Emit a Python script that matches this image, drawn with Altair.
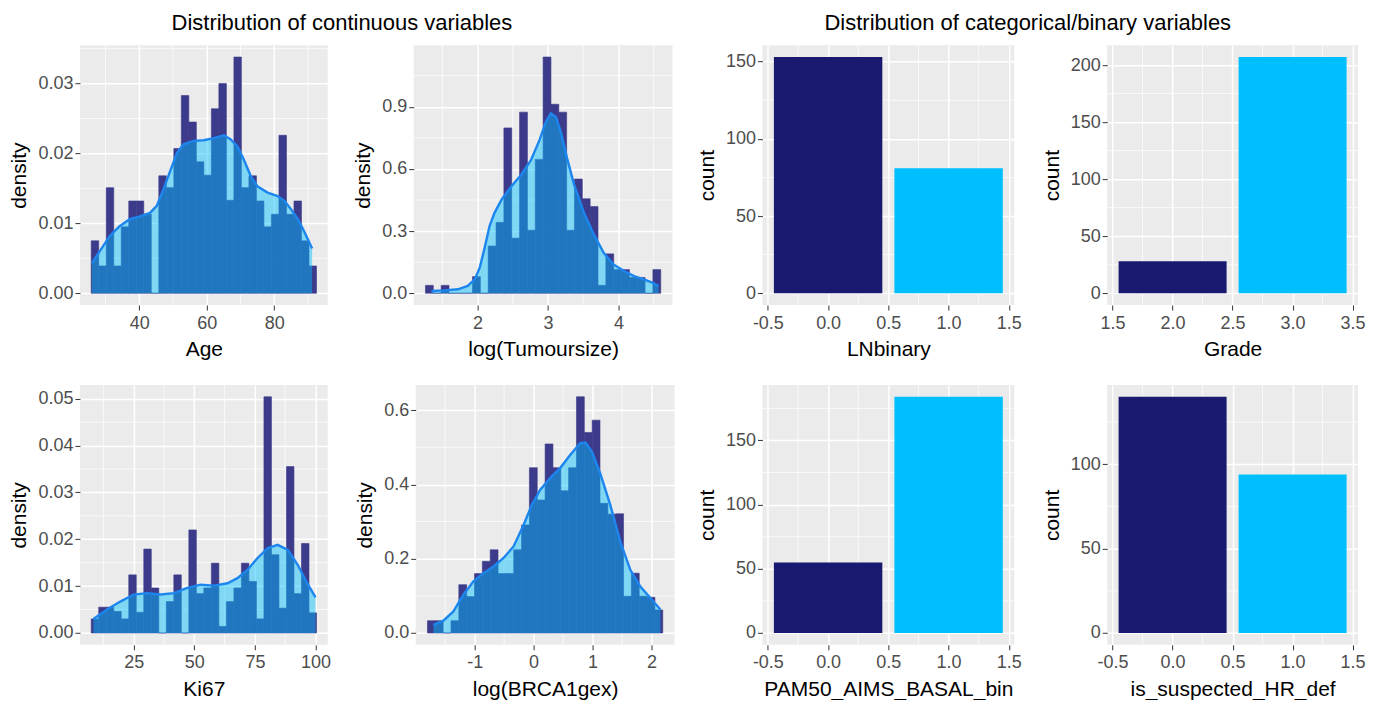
import altair as alt
import numpy as np
import pandas as pd

# ---------------- data ----------------
# Age histogram (30 bins) and density curve
age_lo, age_hi = 25.8, 92.5
age_density = [0.0075, 0.0039, 0.0151, 0.0039, 0.0095, 0.0132, 0.0132, 0.0113, 0.0, 0.0168,
               0.0151, 0.0207, 0.0283, 0.0245, 0.0188, 0.0169, 0.0264, 0.0300, 0.0133, 0.0338,
               0.0151, 0.0168, 0.0132, 0.0095, 0.0113, 0.0226, 0.0113, 0.0132, 0.0075, 0.0039]
age_kde_x = [26.0, 28.3, 31.3, 34.2, 37.2, 40.2, 43.2, 45.2, 47.2, 49.2, 51.2, 53.1, 56.1, 59.1,
             62.1, 65.1, 67.1, 69.1, 71.0, 73.0, 75.0, 78.0, 81.0, 83.0, 85.0, 87.0, 89.0, 91.2]
age_kde_y = [0.0043, 0.0060, 0.0082, 0.0096, 0.0106, 0.0110, 0.0115, 0.0125, 0.0149, 0.0175,
             0.0201, 0.0213, 0.0218, 0.0219, 0.0222, 0.0226, 0.0220, 0.0210, 0.0191, 0.0168,
             0.0153, 0.0144, 0.0139, 0.0132, 0.0120, 0.0106, 0.0087, 0.0064]

# log(Tumoursize)
tum_lo, tum_hi = 1.26, 4.60
tum_density = [0.038, 0.0, 0.038, 0.0, 0.0, 0.0, 0.080, 0.0, 0.228, 0.342,
               0.798, 0.266, 0.874, 0.304, 0.646, 1.140, 0.912, 0.874, 0.304, 0.551,
               0.456, 0.418, 0.038, 0.190, 0.114, 0.114, 0.076, 0.076, 0.0, 0.114]
tum_kde_x = [1.345, 1.53, 1.72, 1.86, 1.96, 2.03, 2.10, 2.17, 2.24, 2.34, 2.48, 2.62, 2.76, 2.88,
             2.97, 3.04, 3.11, 3.18, 3.27, 3.37, 3.51, 3.65, 3.79, 3.93, 4.08, 4.22, 4.36, 4.48, 4.57]
tum_kde_y = [0.011, 0.014, 0.019, 0.035, 0.067, 0.123, 0.219, 0.324, 0.388, 0.452, 0.516, 0.572,
             0.644, 0.740, 0.828, 0.868, 0.852, 0.780, 0.652, 0.524, 0.388, 0.284, 0.195, 0.139,
             0.107, 0.083, 0.067, 0.051, 0.035]

# Ki67
ki_lo, ki_hi = 7.5, 100.4
ki_density = [0.0030, 0.0055, 0.0055, 0.0046, 0.0030, 0.0124, 0.0044, 0.0179, 0.0096, 0.0,
              0.0067, 0.0124, 0.0, 0.0220, 0.0084, 0.0096, 0.0149, 0.0014, 0.0067, 0.0096,
              0.0149, 0.0110, 0.0030, 0.0504, 0.0167, 0.0053, 0.0355, 0.0084, 0.0191, 0.0043]
ki_kde_x = [8.4, 14.0, 19.5, 25.0, 30.6, 36.1, 41.6, 47.1, 52.6, 58.2, 63.7, 67.8, 72.0, 76.1,
            80.3, 84.4, 88.6, 92.7, 96.9, 100.0]
ki_kde_y = [0.0030, 0.0050, 0.0067, 0.0082, 0.0085, 0.0082, 0.0085, 0.0096, 0.0103, 0.0101,
            0.0106, 0.0117, 0.0135, 0.0160, 0.0181, 0.0188, 0.0177, 0.0145, 0.0103, 0.0076]

# log(BRCA1gex)
br_lo, br_hi = -1.80, 2.19
br_density = [0.033, 0.033, 0.0, 0.033, 0.130, 0.098, 0.160, 0.193, 0.224, 0.160,
              0.160, 0.224, 0.291, 0.445, 0.358, 0.509, 0.445, 0.383, 0.445, 0.636,
              0.540, 0.573, 0.349, 0.320, 0.321, 0.099, 0.161, 0.099, 0.096, 0.062]
br_kde_x = [-1.70, -1.53, -1.36, -1.19, -1.02, -0.85, -0.68, -0.51, -0.34, -0.17, -0.03, 0.11,
            0.28, 0.45, 0.62, 0.79, 0.88, 0.99, 1.13, 1.30, 1.47, 1.64, 1.81, 1.98, 2.15]
br_kde_y = [0.022, 0.033, 0.058, 0.103, 0.139, 0.161, 0.179, 0.202, 0.233, 0.291, 0.345, 0.385,
            0.417, 0.444, 0.479, 0.511, 0.513, 0.488, 0.430, 0.345, 0.246, 0.170, 0.125, 0.094, 0.063]

# categorical / binary counts
ln_levels = [0, 1]
ln_counts = [153, 81]
grade_levels = [2, 3]
grade_counts = [28, 207]
pam_levels = [0, 1]
pam_counts = [55, 184]
hr_levels = [0, 1]
hr_counts = [140, 94]

# ---------------- styling ----------------
FONT = "Liberation Sans"
NAVY_HIST = "#3C3A8A"
NAVY = "#191970"
SKY = "#00BFFF"
LINE = "#1C86EE"
BAR_HALF = 0.45


def make_axis(major, fmt):
    return alt.Axis(
        values=major,
        format=fmt,
        labelExpr="replace(datum.label, '\u2212', '-')",
        gridWidth=1.5,
        labelOverlap=False,
        labelFlush=False,
        labelBound=False,
    )


def expand(lo, hi, f=0.05):
    d = hi - lo
    return [lo - f * d, hi + f * d]


def minor_grid(xs, ys, xminor, yminor, xax, yax, xtitle, ytitle):
    gx = alt.Chart(pd.DataFrame({"gx": xminor})).mark_rule(color="white", strokeWidth=0.7).encode(
        x=alt.X("gx:Q", scale=xs, axis=xax, title=xtitle)
    )
    gy = alt.Chart(pd.DataFrame({"gy": yminor})).mark_rule(color="white", strokeWidth=0.7).encode(
        y=alt.Y("gy:Q", scale=ys, axis=yax, title=ytitle)
    )
    return gx, gy


def hist_panel(lo, hi, dens, kx, ky, xtitle, xmaj, xmin, xfmt, ymaj, ymin, yfmt, width, height):
    edges = np.linspace(lo, hi, len(dens) + 1)
    hist = pd.DataFrame({"x0": edges[:-1], "x1": edges[1:], "d": dens, "z": 0.0})
    kde = pd.DataFrame({"x": kx, "y": ky, "z": 0.0})
    ytop = max(max(dens), max(ky))
    xs = alt.Scale(domain=expand(lo, hi), nice=False, zero=False)
    ys = alt.Scale(domain=expand(0, ytop), nice=False, zero=False)
    xax = make_axis(xmaj, xfmt)
    yax = make_axis(ymaj, yfmt)
    gx, gy = minor_grid(xs, ys, xmin, ymin, xax, yax, xtitle, "density")
    bars = alt.Chart(hist).mark_rect(color=NAVY_HIST, stroke=NAVY_HIST, strokeWidth=0.6).encode(
        x=alt.X("x0:Q", scale=xs, axis=xax, title=xtitle),
        x2="x1:Q",
        y=alt.Y("d:Q", scale=ys, axis=yax, title="density"),
        y2="z:Q",
    )
    area = alt.Chart(kde).mark_area(color=SKY, opacity=0.46).encode(
        x=alt.X("x:Q", scale=xs, axis=xax, title=xtitle),
        y=alt.Y("y:Q", scale=ys, axis=yax, title="density"),
        y2="z:Q",
    )
    line = alt.Chart(kde).mark_line(color=LINE, strokeWidth=2.4).encode(
        x=alt.X("x:Q", scale=xs, axis=xax, title=xtitle),
        y=alt.Y("y:Q", scale=ys, axis=yax, title="density"),
    )
    return alt.layer(gx, gy, bars, area, line).properties(width=width, height=height)


def bar_panel(levels, counts, xtitle, ymaj, ymin, width, height):
    df = pd.DataFrame({"v": levels, "n": counts, "fill": [NAVY, SKY], "z": 0})
    lo, hi = min(levels) - BAR_HALF, max(levels) + BAR_HALF
    xs = alt.Scale(domain=expand(lo, hi), nice=False, zero=False)
    ys = alt.Scale(domain=expand(0, max(counts)), nice=False, zero=False)
    c = min(levels)
    xmaj = [c - 0.5, c, c + 0.5, c + 1.0, c + 1.5]
    xmin = [c - 0.25, c + 0.25, c + 0.75, c + 1.25]
    xax = make_axis(xmaj, ".1f")
    yax = make_axis(ymaj, "d")
    gx, gy = minor_grid(xs, ys, xmin, ymin, xax, yax, xtitle, "count")
    bars = (
        alt.Chart(df)
        .transform_calculate(lo=f"datum.v - {BAR_HALF}", hi=f"datum.v + {BAR_HALF}")
        .mark_rect()
        .encode(
            x=alt.X("lo:Q", scale=xs, axis=xax, title=xtitle),
            x2="hi:Q",
            y=alt.Y("n:Q", scale=ys, axis=yax, title="count"),
            y2="z:Q",
            color=alt.Color("fill:N", scale=None),
        )
    )
    return alt.layer(gx, gy, bars).properties(width=width, height=height)


H = 260
p_age = hist_panel(age_lo, age_hi, age_density, age_kde_x, age_kde_y, "Age",
                   [40, 60, 80], [30, 50, 70, 90], "d",
                   [0, 0.01, 0.02, 0.03], [0.005, 0.015, 0.025, 0.035], ".2f", 248, H)
p_tum = hist_panel(tum_lo, tum_hi, tum_density, tum_kde_x, tum_kde_y, "log(Tumoursize)",
                   [2, 3, 4], [1.5, 2.5, 3.5, 4.5], "d",
                   [0, 0.3, 0.6, 0.9], [0.15, 0.45, 0.75, 1.05], ".1f", 259, H)
p_ki = hist_panel(ki_lo, ki_hi, ki_density, ki_kde_x, ki_kde_y, "Ki67",
                  [25, 50, 75, 100], [12.5, 37.5, 62.5, 87.5], "d",
                  [0, 0.01, 0.02, 0.03, 0.04, 0.05], [0.005, 0.015, 0.025, 0.035, 0.045], ".2f", 248, H)
p_br = hist_panel(br_lo, br_hi, br_density, br_kde_x, br_kde_y, "log(BRCA1gex)",
                  [-1, 0, 1, 2], [-1.5, -0.5, 0.5, 1.5], "d",
                  [0, 0.2, 0.4, 0.6], [0.1, 0.3, 0.5], ".1f", 259, H)

p_ln = bar_panel(ln_levels, ln_counts, "LNbinary", [0, 50, 100, 150], [25, 75, 125], 252, H)
p_gr = bar_panel(grade_levels, grade_counts, "Grade", [0, 50, 100, 150, 200],
                 [25, 75, 125, 175], 251, H)
p_pam = bar_panel(pam_levels, pam_counts, "PAM50_AIMS_BASAL_bin", [0, 50, 100, 150],
                  [25, 75, 125, 175], 252, H)
p_hr = bar_panel(hr_levels, hr_counts, "is_suspected_HR_def", [0, 50, 100], [25, 75, 125], 251, H)

left = alt.vconcat(
    alt.hconcat(p_age, p_tum, spacing=23),
    alt.hconcat(p_ki, p_br, spacing=23),
    spacing=24,
).properties(title=alt.Title("Distribution of continuous variables", anchor="middle"))

right = alt.vconcat(
    alt.hconcat(p_ln, p_gr, spacing=18),
    alt.hconcat(p_pam, p_hr, spacing=18),
    spacing=24,
).properties(title=alt.Title("Distribution of categorical/binary variables", anchor="middle", dx=-3))

chart = (
    alt.hconcat(left, right, spacing=20)
    .properties(padding={"left": 0, "top": 3, "right": 5, "bottom": 0})
    .configure_view(fill="#EBEBEB", stroke=None)
    .configure_axis(
        domain=False,
        gridColor="white",
        labelFont=FONT,
        labelFontSize=18,
        labelColor="#4D4D4D",
        titleFont=FONT,
        titleFontSize=21,
        titleFontWeight="normal",
        titleColor="black",
        tickSize=5,
        tickColor="#333333",
        labelPadding=2,
    )
    .configure_axisX(labelPadding=4, titlePadding=7)
    .configure_axisY(titlePadding=8)
    .configure_title(font=FONT, fontSize=22, fontWeight="normal", color="black", offset=10)
)

chart.save("out.html", embed_options={"renderer": "svg", "actions": False})
